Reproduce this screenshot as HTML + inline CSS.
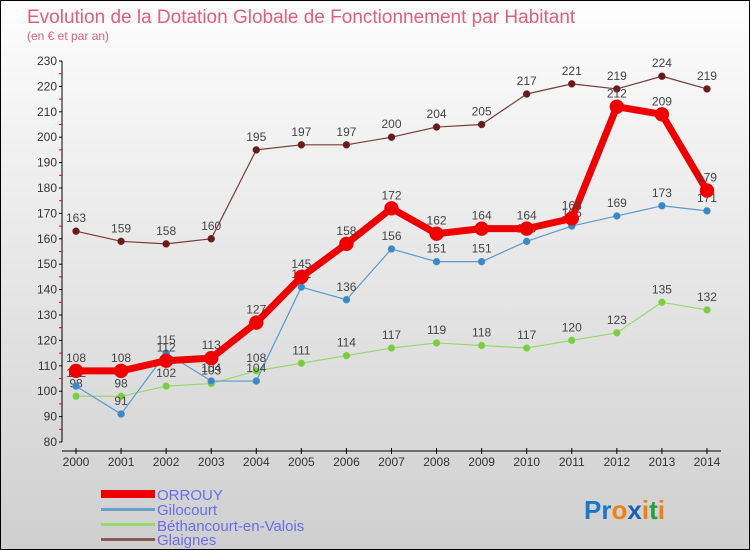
<!DOCTYPE html>
<html><head><meta charset="utf-8"><style>
body{margin:0}
#c{position:relative;width:750px;height:550px;box-sizing:border-box;border:1px solid #000;background:linear-gradient(#fdfdfd,#cfcfcf);font-family:"Liberation Sans",sans-serif;overflow:hidden}
</style></head><body>
<div id="c">
<svg width="750" height="550" style="position:absolute;left:0;top:0" id="s">
<text x="26" y="22" font-size="19" fill="#e0607a">Evolution de la Dotation Globale de Fonctionnement par Habitant</text>
<text x="26" y="39" font-size="12" fill="#e0607a">(en € et par an)</text>
<g id="g"></g>
<g>
<rect x="100" y="489" width="54" height="8" fill="#ee0000"/>
<text x="156" y="499" font-size="15" fill="#6b6bf0">ORROUY</text>
<rect x="100" y="507" width="54" height="3" fill="#6aa0c8"/>
<text x="156" y="514" font-size="15" fill="#6b6bf0">Gilocourt</text>
<rect x="100" y="522" width="54" height="3" fill="#98d870"/>
<text x="156" y="530" font-size="15" fill="#6b6bf0">Béthancourt-en-Valois</text>
<rect x="100" y="537" width="54" height="3" fill="#8a5a5a"/>
<text x="156" y="544" font-size="15" fill="#6b6bf0">Glaignes</text>
</g>
<text x="583" y="518" font-size="26" font-weight="bold"><tspan fill="#1a78c8">Pr</tspan><tspan fill="#f08010">o</tspan><tspan fill="#1a60b0">x</tspan><tspan fill="#f08010">i</tspan><tspan fill="#20a040">t</tspan><tspan fill="#f08010">i</tspan></text>
</svg>
</div>
<script>
const years=[2000,2001,2002,2003,2004,2005,2006,2007,2008,2009,2010,2011,2012,2013,2014];
const yTicks=[80,90,100,110,120,130,140,150,160,170,180,190,200,210,220,230];
const orrouy=[108,108,112,113,127,145,158,172,162,164,164,168,212,209,179];
const gilocourt=[102,91,115,104,104,141,136,156,151,151,159,165,169,173,171];
const bethancourt=[98,98,102,103,108,111,114,117,119,118,117,120,123,135,132];
const glaignes=[163,159,158,160,195,197,197,200,204,205,217,221,219,224,219];
const NS='http://www.w3.org/2000/svg';
const g=document.getElementById('g');
const X=i=>75+i*45.07;
const Y=v=>441-(v-80)*(381/150);
function mk(t,a,p){const e=document.createElementNS(NS,t);for(const k in a)e.setAttribute(k,a[k]);(p||g).appendChild(e);return e;}
let ax=mk('line',{x1:61,y1:60,x2:61,y2:441,stroke:'#000','stroke-width':1});


let bx=mk('line',{x1:61,y1:450,x2:720,y2:450,stroke:'#000','stroke-width':1});


yTicks.forEach((v,i)=>{
 mk('line',{x1:58,y1:Y(v),x2:61,y2:Y(v),stroke:'#000'});
 if(i<yTicks.length-1)mk('line',{x1:58,y1:Y(v+5),x2:61,y2:Y(v+5),stroke:'#e00'});
 const t=mk('text',{x:56,y:Y(v)+4,'font-size':12,fill:'#333','text-anchor':'end'});t.textContent=v;
 
 
});
years.forEach((yr,i)=>{
 mk('line',{x1:X(i),y1:447,x2:X(i),y2:453,stroke:'#000'});
 const t=mk('text',{x:X(i),y:465,'font-size':12,fill:'#333','text-anchor':'middle'});t.textContent=yr;
 
 
});
function series(data,name,color,w,r,dot){
 const gg=mk('g',{});
 
 
 mk('polyline',{points:data.map((v,i)=>X(i)+','+Y(v)).join(' '),fill:'none',stroke:color,'stroke-width':w,'stroke-linejoin':'round'},gg);
 data.forEach((v,i)=>{
  const c=mk('circle',{cx:X(i),cy:Y(v),r:r,fill:dot,stroke:color,'stroke-width':0.5},gg);
  
  
  const t=mk('text',{x:X(i),y:Y(v)-9,'font-size':12,fill:'#444','text-anchor':'middle'},gg);t.textContent=v;
  
  
 });
}
series(glaignes,'glaignes','#7a3a3a',1.2,3.5,'#6a1a1a');
series(bethancourt,'bethancourt','#98d870',1.2,3.5,'#7acc40');
series(gilocourt,'gilocourt','#5a9ad0',1.2,3.5,'#3a88c8');
series(orrouy,'orrouy','#ee0000',7,7,'#ee0000');
</script>
</body></html>
